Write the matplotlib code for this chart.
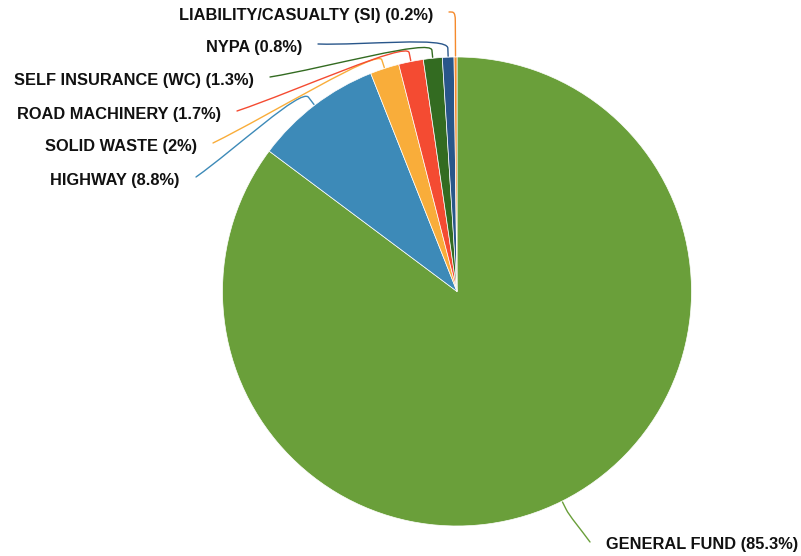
import numpy as np
import matplotlib
matplotlib.use("Agg")
import matplotlib.pyplot as plt
from matplotlib.path import Path
from matplotlib.patches import PathPatch

funds = ["GENERAL FUND", "HIGHWAY", "SOLID WASTE", "ROAD MACHINERY",
         "SELF INSURANCE (WC)", "NYPA", "LIABILITY/CASUALTY (SI)"]
shares = [85.3, 8.8, 2, 1.7, 1.3, 0.8, 0.2]
share_text = ["85.3%", "8.8%", "2%", "1.7%", "1.3%", "0.8%", "0.2%"]
colors = ["#6a9f3a", "#3d8ab8", "#f9ad3a", "#f44b32", "#336b21", "#29568a", "#f58a2c"]

W, H = 801, 556
plt.rcParams['font.family'] = ['Liberation Sans', 'DejaVu Sans']

fig = plt.figure(figsize=(W / 100, H / 100), dpi=100)
ax = fig.add_axes([0, 0, 1, 1])

cx, cy, r = 457, H - 291.5, 234.5
wedges, _ = ax.pie(shares, colors=colors, startangle=90, counterclock=False,
                   center=(cx, cy), radius=r, normalize=True,
                   wedgeprops=dict(linewidth=0.5, edgecolor="white"))

# leader line end points (pixel coords, y from top), elbow length, label side
ends = {
    0: ((590, 542), 9, "left"),
    1: ((196, 177), 10, "right"),
    2: ((213, 143), 9, "right"),
    3: ((237, 111), 9, "right"),
    4: ((270, 77), 8, "right"),
    5: ((318, 44), 9, "right"),
    6: ((449, 12), 36, "right"),
}

for i, w in enumerate(wedges):
    mid = np.deg2rad((w.theta1 + w.theta2) / 2)
    d = np.array([np.cos(mid), np.sin(mid)])
    c = np.array([cx, cy])
    (ex, ey), elbow, side = ends[i]
    end = np.array([ex, H - ey], dtype=float)
    p0 = c + d * (r + 1)
    p1 = c + d * (r + elbow)
    if i == 6:
        c1 = p1 + d * 10
        c2 = end + np.array([4, 0])
    elif i == 0:
        c1 = p1 + d * 8
        c2 = end + 0.4 * (p1 - end)
    else:
        c1 = p1 + d * 12
        c2 = end + 0.35 * (p1 - end)
    verts = [p0, p1, c1, c2, end]
    codes = [Path.MOVETO, Path.LINETO, Path.CURVE4, Path.CURVE4, Path.CURVE4]
    ax.add_patch(PathPatch(Path(verts, codes), fill=False, edgecolor=colors[i],
                           linewidth=1.0, capstyle="round"))
    label = f"{funds[i]} ({share_text[i]})"
    if side == "right":
        ax.text(ex - 16, H - ey - 3.5, label, ha="right", va="center",
                fontsize=11.8, fontweight="bold", color="#111111")
    else:
        ax.text(ex + 16, H - ey - 3, label, ha="left", va="center",
                fontsize=11.8, fontweight="bold", color="#111111")

ax.set_xlim(0, W)
ax.set_ylim(0, H)
ax.set_aspect("auto")
ax.axis("off")
fig.savefig("out.png", dpi=100)
